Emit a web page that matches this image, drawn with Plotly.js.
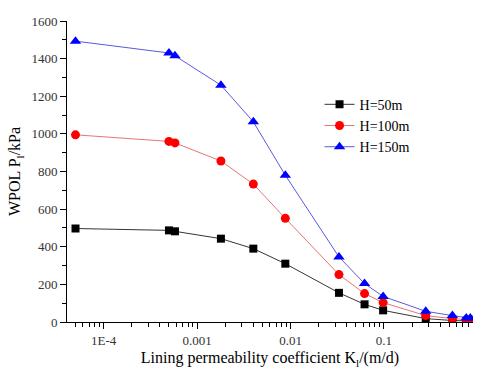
<!DOCTYPE html>
<html>
<head>
<meta charset="utf-8">
<script src="https://cdn.plot.ly/plotly-3.0.1.min.js"></script>
<style>
  html, body { margin: 0; padding: 0; background: #fff; }
  #plot { width: 480px; height: 371px; }
</style>
</head>
<body>
<div id="plot"></div>
<script>
// Lining permeability coefficient (m/d)
const permeability = [5e-5, 5e-4, 5.8e-4, 0.0018, 0.004, 0.0088, 0.033, 0.062, 0.098, 0.28, 0.54, 0.76, 0.84];

// WPOL (kPa) per water head
const pressure50 = [497, 487, 482, 443, 390, 310, 155, 94, 62, 18, 8, 5, 5];
const pressure100 = [995, 960, 952, 856, 733, 551, 252, 151, 103, 34, 18, 12, 12];
const pressure150 = [1493, 1430, 1415, 1259, 1064, 780, 346, 204, 136, 57, 34, 21, 21];

const seriesNames = ['H=50m', 'H=100m', 'H=150m'];

// Tick labels
const xTickVals = [1e-4, 1e-3, 1e-2, 1e-1];
const xTickText = ['1E-4', '0.001', '0.01', '0.1'];

const serif = 'Liberation Serif, Times New Roman, serif';

const traces = [
    {
        x: permeability, y: pressure50, name: seriesNames[0],
        mode: 'lines+markers',
        line: { color: '#000000', width: 0.8 },
        marker: { symbol: 'square', size: 8, color: '#000000' }
    },
    {
        x: permeability, y: pressure100, name: seriesNames[1],
        mode: 'lines+markers',
        line: { color: '#e05050', width: 0.8 },
        marker: { symbol: 'circle', size: 9, color: '#ff0000' }
    },
    {
        x: permeability, y: pressure150, name: seriesNames[2],
        mode: 'lines+markers',
        line: { color: '#3030d0', width: 0.8 },
        marker: { symbol: 'triangle-up', size: 10, color: '#0000ff' }
    }
];

const layout = {
    width: 480,
    height: 371,
    margin: { l: 67, r: 7, t: 21, b: 49 },
    paper_bgcolor: '#ffffff',
    plot_bgcolor: '#ffffff',
    font: { family: serif, size: 13, color: '#333333' },
    showlegend: true,
    legend: {
        x: 0.622, y: 0.775, xanchor: 'left', yanchor: 'top',
        bgcolor: 'rgba(0,0,0,0)',
        font: { family: serif, size: 14, color: '#000000' },
        tracegroupgap: 0,
        itemwidth: 30
    },
    xaxis: {
        type: 'log',
        range: [-4.392, -0.047],
        gridcolor: 'rgba(0,0,0,0)',
        showline: true,
        linecolor: '#000',
        ticks: 'outside',
        ticklen: 6,
        tickwidth: 1.2,
        tickcolor: '#000',
        tickvals: xTickVals,
        ticktext: xTickText,
        tickfont: { family: serif, size: 13, color: '#333333' },
        minor: { ticks: 'outside', ticklen: 4, tickcolor: '#000', dtick: 'D1' },
        title: {
            text: 'Lining permeability coefficient K<sub>l</sub>/(m/d)',
            font: { family: serif, size: 16, color: '#000000' },
            standoff: 5
        }
    },
    yaxis: {
        range: [0, 1600],
        dtick: 200,
        gridcolor: 'rgba(0,0,0,0)',
        zerolinecolor: '#000',
        zerolinewidth: 1,
        showline: true,
        linecolor: '#000',
        ticks: 'outside',
        ticklen: 6,
        tickwidth: 1.2,
        tickcolor: '#000',
        tickfont: { family: serif, size: 13, color: '#333333' },
        minor: { ticks: 'outside', ticklen: 4, tickcolor: '#000', dtick: 100 },
        title: {
            text: 'WPOL P<sub>l</sub>/kPa',
            font: { family: serif, size: 16, color: '#000000' },
            standoff: 6
        }
    }
};

Plotly.newPlot('plot', traces, layout, { displayModeBar: false });
</script>
</body>
</html>
